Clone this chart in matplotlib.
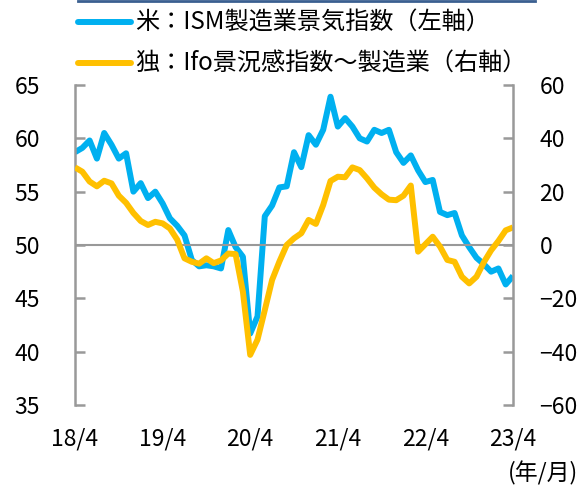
import matplotlib
matplotlib.use('Agg')
import matplotlib.pyplot as plt
from matplotlib.lines import Line2D

plt.rcParams['font.family'] = ['Noto Sans CJK JP', 'DejaVu Sans']

# monthly, 2018/4 .. 2023/4
ism = [58.7, 59.1, 59.8, 58.1, 60.5, 59.4, 58.1, 58.6, 55.0, 55.8, 54.4, 55.0,
       53.9, 52.5, 51.8, 50.9, 48.6, 48.0, 48.1, 48.0, 47.8, 51.4, 49.8, 48.9,
       41.7, 43.3, 52.7, 53.7, 55.4, 55.5, 58.7, 57.3, 60.3, 59.4, 60.8, 63.9,
       61.1, 61.9, 61.1, 60.0, 59.7, 60.8, 60.5, 60.8, 58.7, 57.7, 58.4, 57.0,
       55.9, 56.1, 53.1, 52.8, 53.0, 50.9, 49.8, 48.8, 48.2, 47.5, 47.8, 46.3,
       47.1]
ifo = [29.1, 27.5, 23.8, 22.0, 24.1, 23.1, 18.5, 15.8, 12.0, 9.0, 7.5, 8.7,
       8.1, 6.2, 2.0, -5.0, -6.3, -7.0, -5.0, -6.8, -5.8, -3.2, -3.4, -17.5,
       -41.2, -35.5, -24.4, -13.1, -6.2, 0.0, 2.5, 4.4, 9.4, 7.9, 15.0, 24.0,
       25.6, 25.4, 29.1, 28.1, 25.0, 21.5, 19.0, 17.0, 16.8, 18.5, 22.3, -2.5,
       0.3, 3.1, -0.6, -5.6, -6.3, -11.9, -14.4, -11.9, -6.5, -2.0, 1.5, 5.5,
       6.6]
x_labels = ['18/4', '19/4', '20/4', '21/4', '22/4', '23/4']
left_ticks = [35, 40, 45, 50, 55, 60, 65]
right_ticks = [-60, -40, -20, 0, 20, 40, 60]

blue = '#00B0F0'
yellow = '#FFC000'
gray = '#999999'

fig = plt.figure(figsize=(5.8, 4.88), dpi=100)
ax = fig.add_axes([75 / 580, 1 - 405 / 488, 438 / 580, 320 / 488])
ax2 = ax.twinx()

x = list(range(len(ism)))
ax.plot(x, ism, color=blue, lw=4.3, solid_joinstyle='round', solid_capstyle='butt')
ax2.plot(x, ifo, color=yellow, lw=4.3, solid_joinstyle='round', solid_capstyle='butt')
ax2.axhline(0, color=gray, lw=1.5, zorder=0)

ax.set_xlim(0, len(ism) - 1)
ax.set_ylim(35, 65)
ax2.set_ylim(-60, 60)
ax.set_yticks(left_ticks)
ax2.set_yticks(right_ticks)
ax.set_xticks(range(0, len(ism), 12))
ax.set_xticklabels(x_labels)

for a in (ax, ax2):
    for s in ('top', 'bottom'):
        a.spines[s].set_visible(False)
    a.spines['left'].set_color(gray)
    a.spines['right'].set_color(gray)
    a.spines['left'].set_linewidth(1.8)
    a.spines['right'].set_linewidth(1.8)
ax.spines['right'].set_visible(False)
ax2.spines['left'].set_visible(False)

ax.tick_params(axis='y', direction='in', length=7, width=1.8, color=gray,
               labelsize=16.5, pad=25)
ax2.tick_params(axis='y', direction='in', length=7, width=1.8, color=gray,
                labelsize=16.5, pad=19)
ax.tick_params(axis='x', length=0, labelsize=16.5, pad=16)

fig.text(578 / 580, 1 - 473 / 488, '(年/月)', fontsize=16.5, ha='right', va='center')

# legend drawn by hand at the top
fig.add_artist(Line2D([78 / 580, 535 / 580], [1 - 1 / 488, 1 - 1 / 488],
                      color='#3A5F90', lw=2))
for yy, col, lab in [(22, blue, '米：ISM製造業景気指数（左軸）'),
                     (63, yellow, '独：Ifo景況感指数～製造業（右軸）')]:
    fig.add_artist(Line2D([78 / 580, 131 / 580], [1 - yy / 488, 1 - yy / 488],
                          color=col, lw=4.3, solid_capstyle='round'))
    fig.text(135 / 580, 1 - yy / 488, lab, fontsize=17.4, ha='left', va='center')

fig.savefig('out.png', dpi=100)
